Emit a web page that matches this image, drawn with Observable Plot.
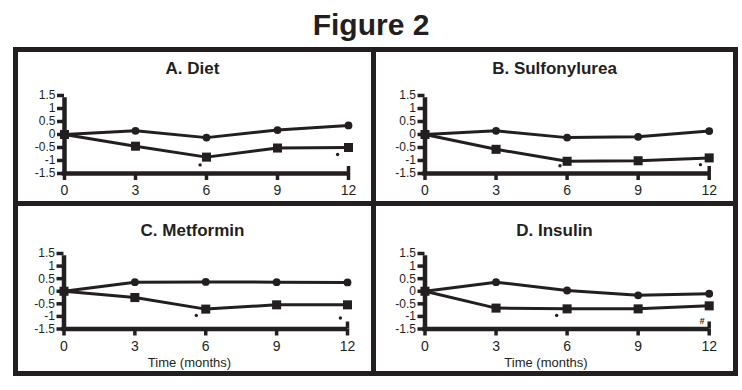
<!DOCTYPE html>
<html><head><meta charset="utf-8">
<script src="https://cdn.jsdelivr.net/npm/d3@7"></script>
<script src="https://cdn.jsdelivr.net/npm/@observablehq/plot@0.6"></script>
<style>
body{margin:0;background:#fff;}
#fig{position:relative;width:742px;height:390px;font-family:"Liberation Sans",Arial,sans-serif;color:#231f20;overflow:hidden;background:#fff}
.abs{position:absolute}
.frame{position:absolute;background:#231f20;z-index:5}
.ptitle{position:absolute;font-size:17px;font-weight:bold;line-height:20px;text-align:center;white-space:nowrap}
.xlab{position:absolute;font-size:13px;line-height:16px;text-align:center;width:140px;white-space:nowrap}
</style></head><body><div id="fig"></div>
<script>
// ---- data ----
const months = [0, 3, 6, 9, 12];
const yTicks = [1.5, 1, 0.5, 0, -0.5, -1, -1.5];
const yTickLabels = ["1.5", "1", "0.5", "0", "-0.5", "-1", "-1.5"];
const xTickLabels = ["0", "3", "6", "9", "12"];
const figureTitle = "Figure 2";
const panelTitles = ["A. Diet", "B. Sulfonylurea", "C. Metformin", "D. Insulin"];
const xAxisTitle = "Time (months)";

const circleA = [0, 0.14, -0.12, 0.17, 0.35];
const squareA = [0, -0.45, -0.87, -0.52, -0.50];
const circleB = [0, 0.14, -0.12, -0.09, 0.13];
const squareB = [0, -0.57, -1.03, -1.01, -0.90];
const circleC = [0, 0.36, 0.37, 0.36, 0.35];
const squareC = [0, -0.25, -0.71, -0.54, -0.54];
const circleD = [0, 0.36, 0.03, -0.16, -0.10];
const squareD = [0, -0.67, -0.70, -0.70, -0.58];

// significance markers (small dots) and "#"
const noteMonthsA = [5.73, 11.54], noteValuesA = [-1.17, -0.77];
const noteMonthsB = [5.70, 11.63], noteValuesB = [-1.20, -1.16];
const noteMonthsC = [5.60, 11.70], noteValuesC = [-0.96, -1.06];
const noteMonthsD = [5.56], noteValuesD = [-0.96];
const hashMonthsD = [11.7], hashValuesD = [-1.2], hashLabelsD = ["#"];

// ---- layout ----
const INK = "#231f20";
const fig = document.getElementById("fig");

function addDiv(cls, css, text) {
  const d = document.createElement("div");
  d.className = cls;
  Object.assign(d.style, css);
  if (text != null) d.textContent = text;
  fig.appendChild(d);
  return d;
}

// figure title
addDiv("abs", {left: "0px", width: "742px", top: "7.6px", textAlign: "center", fontSize: "30px", fontWeight: "bold", lineHeight: "34px"}, figureTitle);

function panel(circ, sq, nm, nv, hm, hv, hl, pos) {
  const cData = months.map((m, j) => ({m, v: circ[j]}));
  const sData = months.map((m, j) => ({m, v: sq[j]}));
  const nData = nm.map((m, j) => ({m, v: nv[j]}));
  const hData = hm.map((m, j) => ({m, v: hv[j], t: hl[j]}));
  const yMin = d3.min(yTicks), yMax = d3.max(yTicks);
  const xMax = d3.max(months);
  const p = Plot.plot({
    width: pos.w, height: pos.h,
    marginLeft: pos.ml, marginRight: pos.mr, marginTop: pos.mt, marginBottom: pos.mb,
    x: {domain: [d3.min(months), xMax]},
    y: {domain: [yMin, yMax]},
    style: {background: "transparent", color: INK, fontFamily: '"Liberation Sans", Arial, sans-serif', overflow: "visible"},
    marks: [
      Plot.axisY({ticks: yTicks, tickFormat: d => yTickLabels[yTicks.indexOf(d)], tickSize: 7, tickPadding: 2, fontSize: 12, strokeWidth: 3.5, label: null}),
      Plot.axisX({ticks: months, tickFormat: d => xTickLabels[months.indexOf(d)], tickSize: 7, tickPadding: 5, fontSize: 14, strokeWidth: 3.5, label: null}),
      Plot.ruleX([0], {y1: yMin, y2: yMax, stroke: INK, strokeWidth: 4.5, insetBottom: -2.25}),
      Plot.ruleY([yMin], {stroke: INK, strokeWidth: 4.5, insetLeft: -2.25}),
      Plot.ruleX([xMax], {y1: yMin, y2: yMin, stroke: INK, strokeWidth: 3.5, insetTop: -7}),
      Plot.line(cData, {x: "m", y: "v", stroke: INK, strokeWidth: 3}),
      Plot.line(sData, {x: "m", y: "v", stroke: INK, strokeWidth: 3}),
      Plot.dot(cData, {x: "m", y: "v", symbol: "circle", r: 3.9, fill: INK, stroke: "none"}),
      Plot.dot(sData, {x: "m", y: "v", symbol: "square", r: 5.1, fill: INK, stroke: "none"}),
      Plot.dot(nData, {x: "m", y: "v", r: 1.7, fill: INK, stroke: "none"}),
      Plot.text(hData, {x: "m", y: "v", text: "t", fontSize: 9, fontWeight: "bold", fontStyle: "italic", fill: INK})
    ]
  });
  Object.assign(p.style, {position: "absolute", left: pos.left + "px", top: pos.top + "px", background: "transparent", maxWidth: "none"});
  fig.appendChild(p);
}

const top1 = {top: 80, h: 120, mt: 15, mb: 27};
const top2 = {top: 238, h: 118, mt: 15, mb: 27.5};
panel(circleA, squareA, noteMonthsA, noteValuesA, [], [], [], {...top1, left: 0, w: 371, ml: 64, mr: 23});
panel(circleB, squareB, noteMonthsB, noteValuesB, [], [], [], {...top1, left: 371, w: 371, ml: 53.5, mr: 33.3});
panel(circleC, squareC, noteMonthsC, noteValuesC, [], [], [], {...top2, left: 0, w: 371, ml: 63.5, mr: 24});
panel(circleD, squareD, noteMonthsD, noteValuesD, hashMonthsD, hashValuesD, hashLabelsD, {...top2, left: 371, w: 371, ml: 53.5, mr: 33.3});

// panel titles
addDiv("ptitle", {left: "13px", width: "359px", top: "59.2px"}, panelTitles[0]);
addDiv("ptitle", {left: "376px", width: "357px", top: "59.2px"}, panelTitles[1]);
addDiv("ptitle", {left: "13px", width: "359px", top: "221.2px"}, panelTitles[2]);
addDiv("ptitle", {left: "376px", width: "357px", top: "221.2px"}, panelTitles[3]);

// x axis titles (bottom row)
addDiv("xlab", {left: (189.5 - 70) + "px", top: "354.5px"}, xAxisTitle);
addDiv("xlab", {left: (546 - 70) + "px", top: "354.5px"}, xAxisTitle);

// frame
const L = 13, T = 46.5, R = 737.7, B = 376, BW = 5;
addDiv("frame", {left: L + "px", top: T + "px", width: (R - L) + "px", height: BW + "px"});
addDiv("frame", {left: L + "px", top: (B - BW) + "px", width: (R - L) + "px", height: BW + "px"});
addDiv("frame", {left: L + "px", top: T + "px", width: BW + "px", height: (B - T) + "px"});
addDiv("frame", {left: (R - BW) + "px", top: T + "px", width: BW + "px", height: (B - T) + "px"});
addDiv("frame", {left: "371px", top: T + "px", width: BW + "px", height: (B - T) + "px"});
addDiv("frame", {left: L + "px", top: "201px", width: (R - L) + "px", height: BW + "px"});
</script>
</body></html>
